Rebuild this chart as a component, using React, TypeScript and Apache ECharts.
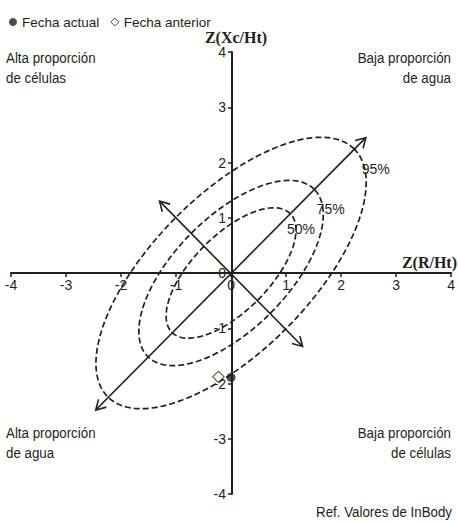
import React, { useEffect, useRef } from "react";
import * as echarts from "echarts";

const xTicks = [-4, -3, -2, -1, 0, 1, 2, 3, 4];
const yTicks = [-4, -3, -2, -1, 0, 1, 2, 3, 4];

// ellipses: [semi-major, semi-minor] along the 45° diagonal, label
const ellipseNames = ["95%", "75%", "50%"];
const ellipseMajor = [3.17, 2.14, 1.52];
const ellipseMinor = [1.42, 1.02, 0.69];
const ellipseLabelPos = [
  [2.63, 1.88],
  [1.81, 1.16],
  [1.27, 0.8],
];

// arrows: [x1, y1, x2, y2]
const arrows = [
  [-2.46, -2.48, 2.45, 2.45],
  [1.3, -1.33, -1.3, 1.3],
];

const actualPoint = [[0, -1.89]];
const previousPoint = [[-0.23, -1.88]];

const INK = "#231f20";
const FONT = "'Liberation Sans', Arial, sans-serif";
const SERIF = "'Liberation Serif', 'Times New Roman', serif";
const GRID_W = 442;
const GRID_H = 442;

export default function App() {
  const ref = useRef<HTMLDivElement>(null);
  useEffect(() => {
    if (!ref.current) return;
    const chart = echarts.init(ref.current, undefined, { renderer: "svg" });

    const ellipseData = ellipseNames.map((n, i) => [
      ellipseMajor[i],
      ellipseMinor[i],
      ellipseLabelPos[i][0],
      ellipseLabelPos[i][1],
    ]);

    const quad = (text: string, x: number, y: number, align: string) => ({
      type: "text",
      x,
      y,
      scaleX: 0.86,
      style: {
        text,
        font: `15.5px ${FONT}`,
        lineHeight: 20,
        fill: INK,
        align,
        verticalAlign: "top",
      },
    });

    const option: any = {
      animation: false,
      grid: { left: 11, right: 5, top: 52, bottom: 29, containLabel: false },
      legend: {
        left: 4,
        top: 10,
        itemWidth: 8,
        itemHeight: 8,
        itemGap: 11,
        textStyle: { fontFamily: FONT, fontSize: 13.5, color: INK },
        data: [
          { name: "Fecha actual", icon: "circle", itemStyle: { color: INK } },
          {
            name: "Fecha anterior",
            icon: "path://M5,0 L10,5 L5,10 L0,5 Z",
            itemStyle: { color: "#fff", borderColor: INK, borderWidth: 1 },
          },
        ],
      },
      xAxis: {
        type: "value",
        min: -4,
        max: 4,
        interval: 1,
        position: "bottom",
        offset: -GRID_H / 2,
        axisLine: { onZero: false, lineStyle: { color: INK, width: 2 } },
        axisTick: { show: true, length: 4, lineStyle: { color: INK, width: 1.5 } },
        axisLabel: {
          margin: 5,
          fontFamily: FONT,
          fontSize: 14,
          color: INK,
          formatter: (v: number) => (xTicks.includes(v) ? String(v) : ""),
        },
        splitLine: { show: false },
      },
      yAxis: {
        type: "value",
        min: -4,
        max: 4,
        interval: 1,
        position: "left",
        offset: -GRID_W / 2,
        axisLine: { onZero: false, lineStyle: { color: INK, width: 2 } },
        axisTick: { show: true, length: 4, lineStyle: { color: INK, width: 1.5 } },
        axisLabel: {
          margin: 6,
          fontFamily: FONT,
          fontSize: 14,
          color: INK,
          formatter: (v: number) => (yTicks.includes(v) ? String(v) : ""),
        },
        splitLine: { show: false },
      },
      series: [
        {
          type: "custom",
          name: "ellipses",
          data: ellipseData,
          encode: { x: [2], y: [3] },
          z: 2,
          silent: true,
          renderItem: (params: any, api: any) => {
            const a = api.value(0);
            const b = api.value(1);
            const lx = api.value(2);
            const ly = api.value(3);
            const c = Math.SQRT1_2;
            const pts: number[][] = [];
            const N = 160;
            for (let k = 0; k <= N; k++) {
              const t = (k / N) * Math.PI * 2;
              const u = a * Math.cos(t);
              const v = b * Math.sin(t);
              pts.push(api.coord([c * (u - v), c * (u + v)]));
            }
            const lp = api.coord([lx, ly]);
            return {
              type: "group",
              children: [
                {
                  type: "polyline",
                  shape: { points: pts },
                  style: { fill: "none", stroke: INK, lineWidth: 1.7, lineDash: [6, 3] },
                },
                {
                  type: "text",
                  x: lp[0],
                  y: lp[1],
                  style: {
                    text: ellipseNames[params.dataIndex],
                    fontFamily: FONT,
                    fontSize: 14,
                    fill: INK,
                    align: "center",
                    verticalAlign: "middle",
                  },
                },
              ],
            };
          },
        },
        {
          type: "custom",
          name: "arrows",
          data: arrows,
          encode: { x: [0, 2], y: [1, 3] },
          z: 3,
          silent: true,
          renderItem: (params: any, api: any) => {
            const p1 = api.coord([api.value(0), api.value(1)]);
            const p2 = api.coord([api.value(2), api.value(3)]);
            const ang = Math.atan2(p2[1] - p1[1], p2[0] - p1[0]);
            const L = 11;
            const spread = Math.PI / 6;
            const head = (p: number[], dir: number) => [
              [p[0] - L * Math.cos(dir - spread), p[1] - L * Math.sin(dir - spread)],
              p,
              [p[0] - L * Math.cos(dir + spread), p[1] - L * Math.sin(dir + spread)],
            ];
            const st = { fill: "none", stroke: INK, lineWidth: 1.6 };
            return {
              type: "group",
              children: [
                { type: "line", shape: { x1: p1[0], y1: p1[1], x2: p2[0], y2: p2[1] }, style: st },
                { type: "polyline", shape: { points: head(p2, ang) }, style: st },
                { type: "polyline", shape: { points: head(p1, ang + Math.PI) }, style: st },
              ],
            };
          },
        },
        {
          type: "scatter",
          name: "Fecha anterior",
          data: previousPoint,
          symbol: "rect",
          symbolSize: 8,
          symbolRotate: 45,
          z: 5,
          itemStyle: { color: "#fff", borderColor: INK, borderWidth: 1 },
        },
        {
          type: "scatter",
          name: "Fecha actual",
          data: actualPoint,
          symbol: "circle",
          symbolSize: 9,
          z: 6,
          itemStyle: { color: INK },
        },
      ],
      graphic: [
        {
          type: "text",
          x: 236,
          y: 37,
          style: {
            text: "Z(Xc/Ht)",
            font: `bold 16px ${SERIF}`,
            fill: INK,
            align: "center",
            verticalAlign: "middle",
          },
        },
        {
          type: "text",
          x: 457,
          y: 262,
          style: {
            text: "Z(R/Ht)",
            font: `bold 16px ${SERIF}`,
            fill: INK,
            align: "right",
            verticalAlign: "middle",
          },
        },
        quad("Alta proporción\nde células", 6, 48, "left"),
        quad("Baja proporción\nde agua", 451, 48, "right"),
        quad("Alta proporción\nde agua", 6, 423, "left"),
        quad("Baja proporción\nde células", 451, 423, "right"),
        {
          type: "text",
          x: 452,
          y: 512,
          scaleX: 0.86,
          style: {
            text: "Ref. Valores de InBody",
            font: `15.5px ${FONT}`,
            fill: INK,
            align: "right",
            verticalAlign: "middle",
          },
        },
      ],
    };
    chart.setOption(option);
    return () => chart.dispose();
  }, []);

  return (
    <div
      ref={ref}
      style={{ position: "fixed", left: 0, top: 0, width: 458, height: 523, background: "#fff" }}
    />
  );
}
